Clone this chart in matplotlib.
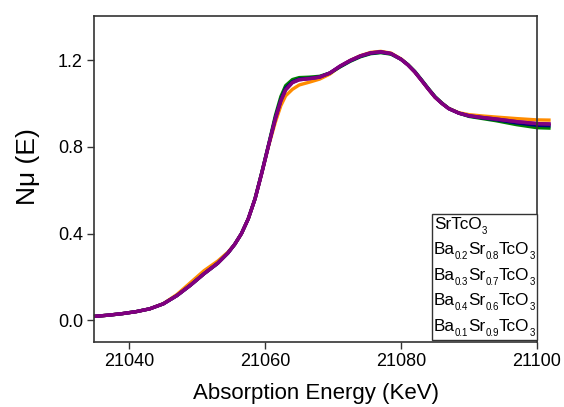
import matplotlib
matplotlib.use("Agg")
import matplotlib.pyplot as plt
from matplotlib.offsetbox import TextArea, HPacker, VPacker, DrawingArea, AnchoredOffsetbox

plt.rcParams['font.family'] = ['Liberation Sans', 'DejaVu Sans']

# energy grid (eV, labelled KeV on the original)
energy = [21034.8, 21037, 21039, 21041, 21043, 21045, 21047, 21049, 21051, 21053,
          21054.5, 21055.5, 21056.5, 21057.5, 21058.5, 21059.5, 21060.5, 21061.5,
          21062.3, 21063, 21064, 21065, 21066.5, 21068, 21069.5, 21071, 21072.5,
          21074, 21075.5, 21077, 21078.5, 21080, 21081, 21082, 21083, 21084, 21085,
          21086, 21087, 21088.5, 21090, 21092, 21094, 21097, 21100, 21102]

srtco3 = [0.018, 0.024, 0.031, 0.040, 0.053, 0.077, 0.119, 0.174, 0.229, 0.273,
          0.314, 0.350, 0.400, 0.468, 0.560, 0.680, 0.805, 0.915,
          0.990, 1.035, 1.065, 1.085, 1.098, 1.112, 1.135, 1.170, 1.198,
          1.220, 1.235, 1.240, 1.232, 1.205, 1.178, 1.145, 1.106, 1.066, 1.028,
          1.000, 0.977, 0.957, 0.948, 0.942, 0.937, 0.930, 0.924, 0.923]

ba02 = [0.018, 0.024, 0.031, 0.040, 0.053, 0.076, 0.114, 0.162, 0.215, 0.263,
        0.310, 0.350, 0.400, 0.468, 0.562, 0.684, 0.812, 0.945,
        1.032, 1.082, 1.110, 1.119, 1.121, 1.125, 1.140, 1.168, 1.194,
        1.215, 1.229, 1.234, 1.227, 1.203, 1.179, 1.148, 1.109, 1.069, 1.031,
        1.002, 0.977, 0.955, 0.940, 0.930, 0.920, 0.902, 0.888, 0.886]

ba03 = [0.018, 0.024, 0.031, 0.040, 0.053, 0.076, 0.114, 0.162, 0.215, 0.263,
        0.310, 0.350, 0.400, 0.468, 0.560, 0.681, 0.809, 0.936,
        1.018, 1.070, 1.100, 1.112, 1.116, 1.122, 1.140, 1.170, 1.196,
        1.217, 1.231, 1.236, 1.229, 1.203, 1.178, 1.146, 1.107, 1.067, 1.029,
        1.000, 0.976, 0.955, 0.942, 0.933, 0.925, 0.910, 0.899, 0.897]

ba04 = [0.018, 0.024, 0.031, 0.040, 0.053, 0.076, 0.114, 0.162, 0.215, 0.263,
        0.310, 0.350, 0.400, 0.468, 0.560, 0.680, 0.808, 0.930,
        1.012, 1.062, 1.096, 1.109, 1.114, 1.121, 1.140, 1.172, 1.198,
        1.219, 1.233, 1.238, 1.230, 1.203, 1.177, 1.145, 1.106, 1.066, 1.028,
        1.000, 0.976, 0.955, 0.943, 0.935, 0.928, 0.916, 0.907, 0.905]

ba01 = [0.018, 0.024, 0.031, 0.040, 0.053, 0.076, 0.114, 0.162, 0.215, 0.263,
        0.310, 0.350, 0.400, 0.468, 0.560, 0.680, 0.808, 0.930,
        1.012, 1.062, 1.096, 1.109, 1.114, 1.121, 1.140, 1.172, 1.198,
        1.219, 1.233, 1.238, 1.230, 1.203, 1.177, 1.145, 1.106, 1.066, 1.028,
        1.000, 0.976, 0.955, 0.943, 0.935, 0.928, 0.916, 0.907, 0.905]

# legend labels as (text, is_subscript) pieces
labels = [[('SrTcO', False), ('3', True)],
          [('Ba', False), ('0.2', True), ('Sr', False), ('0.8', True), ('TcO', False), ('3', True)],
          [('Ba', False), ('0.3', True), ('Sr', False), ('0.7', True), ('TcO', False), ('3', True)],
          [('Ba', False), ('0.4', True), ('Sr', False), ('0.6', True), ('TcO', False), ('3', True)],
          [('Ba', False), ('0.1', True), ('Sr', False), ('0.9', True), ('TcO', False), ('3', True)]]
series = [srtco3, ba02, ba03, ba01, ba04]
colors = ['#ff8c00', '#008000', '#000080', '#800080', '#800080']

fig = plt.figure(figsize=(5.64, 4.07), dpi=100)
ax = fig.add_axes([0.1667, 0.1597, 0.7855, 0.801])

for ys, c in zip(series, colors):
    ax.plot(energy, ys, color=c, lw=2.4, clip_on=False, solid_capstyle='butt')

ax.set_xlim(21034.8, 21100)
ax.set_ylim(-0.1, 1.403)
ax.set_xticks([21040, 21060, 21080, 21100])
ax.set_yticks([0.0, 0.4, 0.8, 1.2])
ax.set_yticklabels(['0.0', '0.4', '0.8', '1.2'])
ax.tick_params(direction='out', length=5, width=1, labelsize=13, pad=3,
               color='#333333')
for sp in ax.spines.values():
    sp.set_color('#333333')
    sp.set_linewidth(1.2)

ax.set_xlabel('Absorption Energy (KeV)', fontsize=16, labelpad=9)
ax.set_ylabel('N\u03bc (E)', fontsize=19, va='center')
ax.yaxis.set_label_coords(-0.148, 0.537)

# legend: text only, small dropped subscripts
rows = []
for parts in labels:
    kids = []
    for s, sub in parts:
        if sub:
            kids.append(TextArea(s, textprops=dict(fontsize=7)))
        else:
            kids.append(VPacker(children=[TextArea(s, textprops=dict(fontsize=12.3)),
                                          DrawingArea(0, 3.0)], pad=0, sep=0))
    rows.append(HPacker(children=kids, align='bottom', pad=0, sep=0))
box = VPacker(children=rows, align='left', pad=0, sep=4.6)
leg = AnchoredOffsetbox(loc='lower right', child=box, pad=0.15, borderpad=0,
                        frameon=True, bbox_to_anchor=(1.0, 0.006),
                        bbox_transform=ax.transAxes)
leg.patch.set_edgecolor('#333333')
leg.patch.set_linewidth(1.0)
ax.add_artist(leg)

fig.savefig('out.png', dpi=100)
